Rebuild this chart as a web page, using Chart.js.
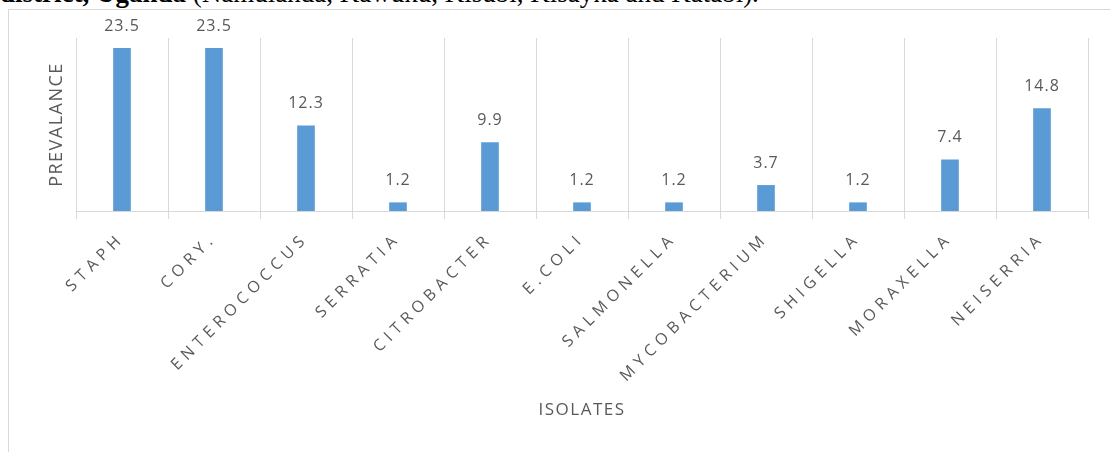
<!DOCTYPE html>
<html>
<head>
<meta charset="utf-8">
<script src="https://cdn.jsdelivr.net/npm/chart.js@4/dist/chart.umd.min.js"></script>
<style>
  html, body { margin: 0; padding: 0; background: #fff; }
  #page { position: relative; width: 1110px; height: 452px; overflow: hidden; background: #fff; }
  #caption {
    position: absolute; left: 0; top: -20px; white-space: nowrap;
    font-family: "Liberation Serif", serif; font-size: 27px; line-height: 27px; color: #000;
  }
  #frame {
    position: absolute; left: 8px; top: 9px; right: 0; bottom: 0;
    border-left: 1px solid #d9d9d9; border-top: 1px solid #d9d9d9;
  }
  #chart { position: absolute; left: 0; top: 0; }
</style>
</head>
<body>
<div id="page">
  <div id="caption"><b>district, Uganda</b> (Namulanda, Kawuku, Kisubi, Kisayka and Katabi).</div>
  <div id="frame"></div>
  <canvas id="chart" width="1110" height="452"></canvas>
</div>
<script>
// Isolates and their prevalence (%)
const isolates = ['STAPH', 'CORY.', 'ENTEROCOCCUS', 'SERRATIA', 'CITROBACTER', 'E.COLI',
                  'SALMONELLA', 'MYCOBACTERIUM', 'SHIGELLA', 'MORAXELLA', 'NEISERRIA'];
const prevalence = [23.5, 23.5, 12.3, 1.2, 9.9, 1.2, 1.2, 3.7, 1.2, 7.4, 14.8];
const yRange = [0, 25];

const TEXT = '#595959';
const GRID = '#d9d9d9';
const BAR = '#5b9bd5';

// Value labels above bars plus letter spacing for the axis text
const labelPlugin = {
  id: 'valueLabels',
  beforeDraw(chart) {
    chart.ctx.letterSpacing = '1.5px';
  },
  afterDatasetsDraw(chart) {
    const ctx = chart.ctx;
    const meta = chart.getDatasetMeta(0);
    ctx.save();
    ctx.letterSpacing = '1px';
    ctx.font = '16px "Open Sans"';
    ctx.fillStyle = TEXT;
    ctx.textAlign = 'center';
    ctx.textBaseline = 'middle';
    meta.data.forEach((bar, i) => {
      ctx.fillText(String(prevalence[i]), bar.x, bar.y - 22);
    });
    ctx.restore();
    // category labels are drawn after this hook (ticks.z = 1)
    ctx.letterSpacing = '5.2px';
  },
  afterDraw(chart) {
    chart.ctx.letterSpacing = '0px';
  }
};

new Chart(document.getElementById('chart'), {
  type: 'bar',
  data: {
    labels: isolates,
    datasets: [{
      data: prevalence,
      backgroundColor: BAR,
      borderWidth: 0,
      barThickness: 17
    }]
  },
  options: {
    responsive: false,
    animation: false,
    events: [],
    layout: { padding: { left: 46, right: 22, top: 38, bottom: 32 } },
    plugins: { legend: { display: false }, tooltip: { enabled: false } },
    scales: {
      x: {
        grid: { display: true, color: GRID, lineWidth: 1, offset: true, drawTicks: true, tickLength: 8 },
        border: { display: true, color: GRID, width: 1 },
        ticks: {
          z: 1,
          autoSkip: false,
          minRotation: 45,
          maxRotation: 45,
          padding: 10,
          color: TEXT,
          font: { family: 'Open Sans', size: 16 }
        },
        title: {
          display: true,
          text: 'ISOLATES',
          color: TEXT,
          padding: 0,
          font: { family: 'Open Sans', size: 17 }
        },
        afterFit(scale) { scale.height = 209; }
      },
      y: {
        min: yRange[0],
        max: yRange[1],
        grid: { display: false },
        border: { display: false },
        ticks: { display: false },
        title: {
          display: true,
          text: 'PREVALANCE',
          color: TEXT,
          padding: 0,
          font: { family: 'Open Sans', size: 18 }
        },
        afterFit(scale) { scale.width = 30; }
      }
    }
  },
  plugins: [labelPlugin]
});
</script>
</body>
</html>
